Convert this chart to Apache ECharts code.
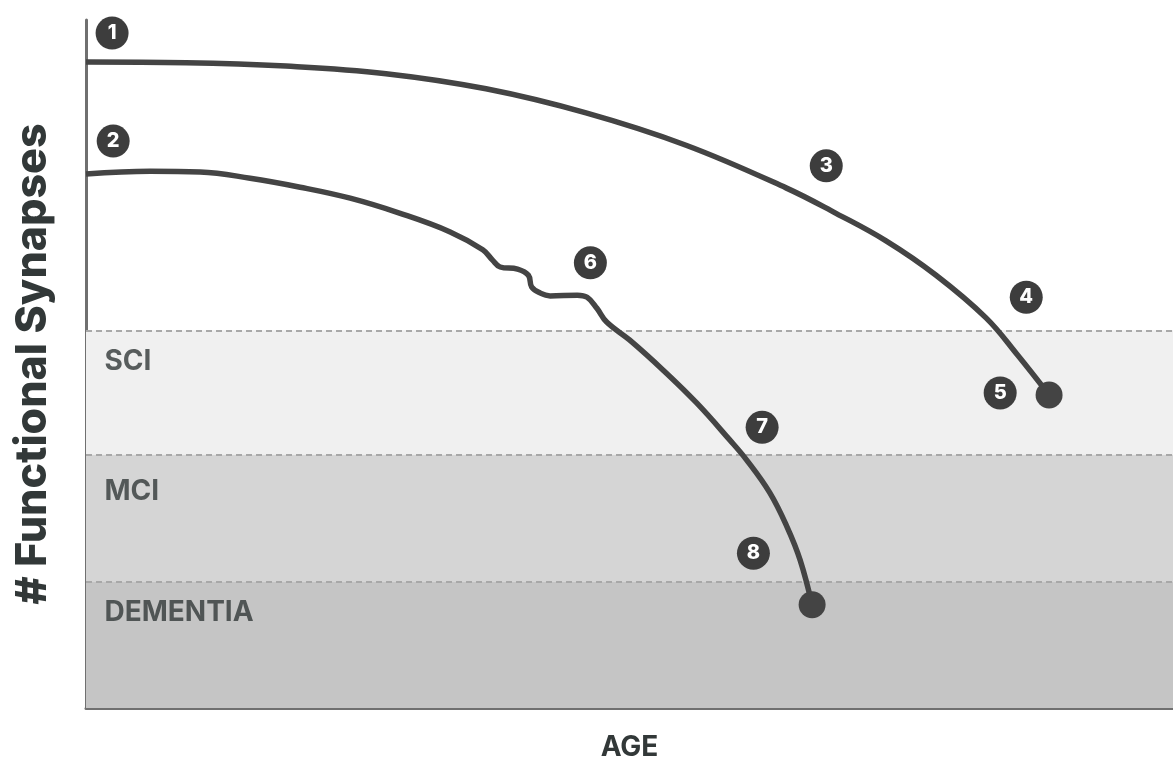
<!DOCTYPE html>
<html>
<head>
<meta charset="utf-8">
<script src="https://cdn.jsdelivr.net/npm/echarts@6/dist/echarts.min.js"></script>
<style>html,body{margin:0;padding:0;background:#fff}#chart{width:1173px;height:762px}</style>
</head>
<body>
<div id="chart"></div>
<script>
// Curve 1: healthy ageing
const curve1X = [0, 9.2, 18.4, 27.6, 36.8, 46.0, 55.2, 64.4, 69.0, 73.6, 78.2, 82.8, 85.7, 88.6];
const curve1Y = [93.9, 93.8, 93.3, 92.2, 90.0, 86.5, 81.8, 75.6, 71.9, 67.9, 62.9, 56.7, 51.3, 45.5];
// Curve 2: accelerated decline with disturbance
const curve2X = [0, 5.9, 10.5, 15.1, 19.7, 24.3, 28.9, 33.5, 36.5, 37.4, 38.1, 39.7, 40.7, 41.0, 41.8, 42.7, 45.2, 46.1, 47.0, 47.9, 50.0, 53.1, 56.2, 59.2, 60.8, 62.9, 64.5, 65.7, 66.8];
const curve2Y = [77.6, 78.0, 77.9, 77.0, 75.7, 74.1, 71.9, 69.2, 66.6, 65.1, 64.1, 63.8, 62.9, 61.2, 60.3, 59.9, 60.0, 59.7, 58.1, 56.1, 53.5, 49.1, 44.3, 39.0, 36.0, 31.3, 26.3, 21.5, 15.0];
// Numbered badges
const badgeLabels = ['1', '2', '3', '4', '5', '6', '7', '8'];
const badgeX = [2.4, 2.5, 68.1, 86.5, 84.1, 46.4, 62.2, 61.4];
const badgeY = [98.1, 82.4, 78.8, 59.7, 45.8, 64.7, 40.8, 22.5];
// Zones
const bandNames = ['SCI', 'MCI', 'DEMENTIA'];
const bandTop = [54.9, 36.8, 18.3];
const bandBottom = [36.8, 18.3, 0];
const bandColors = ['#f0f0f0', '#d5d5d5', '#c5c5c5'];
const bandLabelY = [50.4, 31.4, 13.9];
const bandLabelX = 1.7;

const zip = (xs, ys) => xs.map((x, i) => [x, ys[i]]);
const textColor = '#323838';
const lineColor = '#444444';
const font = 'Inter, "Open Sans", sans-serif';

const chart = echarts.init(document.getElementById('chart'), null, {renderer: 'canvas'});
chart.setOption({
  animation: false,
  backgroundColor: '#ffffff',
  grid: {left: 86, right: 0, top: 20, bottom: 54, containLabel: false, outerBoundsMode: 'none'},
  xAxis: {
    type: 'value', min: 0, max: 100,
    name: 'AGE', nameLocation: 'middle', nameGap: 26,
    nameTextStyle: {fontFamily: font, fontWeight: 700, fontSize: 28, color: textColor},
    axisLine: {show: true, onZero: false, lineStyle: {color: '#707070', width: 3}},
    axisTick: {show: false}, axisLabel: {show: false}, splitLine: {show: false}
  },
  yAxis: {
    type: 'value', min: 0, max: 100,
    name: '# Functional Synapses', nameLocation: 'middle', nameGap: 31, nameRotate: 90,
    nameTextStyle: {fontFamily: font, fontWeight: 800, fontSize: 43, color: textColor},
    axisLine: {show: true, onZero: false, lineStyle: {color: '#707070', width: 3}},
    axisTick: {show: false}, axisLabel: {show: false}, splitLine: {show: false}
  },
  series: [
    {
      type: 'line', data: [], z: 1, silent: true,
      markArea: {
        silent: true,
        data: bandNames.map((n, i) => [
          {yAxis: bandTop[i], itemStyle: {color: bandColors[i], opacity: 1}},
          {yAxis: bandBottom[i]}
        ])
      },
      markLine: {
        silent: true, symbol: 'none', label: {show: false},
        lineStyle: {color: '#a8a8a8', type: [6, 4], width: 2},
        data: bandTop.map(v => ({yAxis: v}))
      }
    },
    {
      type: 'scatter', z: 2, symbolSize: 0, silent: true,
      data: bandNames.map((n, i) => ({value: [bandLabelX, bandLabelY[i]], name: n})),
      label: {show: true, formatter: p => p.name, position: 'right', distance: 0,
        fontFamily: font, fontWeight: 700, fontSize: 28, color: textColor}
    },
    {
      type: 'line', z: 5, data: zip(curve1X, curve1Y), showSymbol: false,
      smooth: 0.4,
      lineStyle: {color: lineColor, width: 5.5}
    },
    {
      type: 'line', z: 5, data: zip(curve2X, curve2Y), showSymbol: false,
      smooth: 0.4,
      lineStyle: {color: lineColor, width: 5.5}
    },
    {
      type: 'scatter', z: 6, symbolSize: 27,
      itemStyle: {color: lineColor, opacity: 1},
      data: [
        [curve1X[curve1X.length - 1], curve1Y[curve1Y.length - 1]],
        [curve2X[curve2X.length - 1], curve2Y[curve2Y.length - 1]]
      ]
    },
    {
      type: 'scatter', z: 7, symbolSize: 33,
      itemStyle: {color: '#3d3d3d', opacity: 1},
      data: badgeLabels.map((b, i) => ({value: [badgeX[i], badgeY[i]], name: b})),
      label: {show: true, position: 'inside', formatter: p => p.name,
        fontFamily: font, fontWeight: 800, fontSize: 20, color: '#ffffff'}
    }
  ]
});
</script>
</body>
</html>
